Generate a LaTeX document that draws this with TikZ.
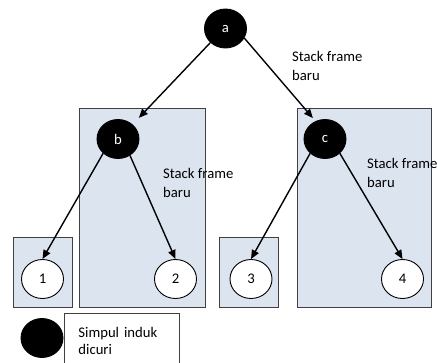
\documentclass[tikz,border=0pt]{standalone}
\usepackage{fontspec}
\setmainfont{Carlito}
\usetikzlibrary{arrows.meta,shapes.geometric}
\definecolor{framebg}{HTML}{DCE4F0}

\begin{document}
\begin{tikzpicture}[x=1pt, y=-1pt, font=\fontsize{14.7}{19}\selectfont,
    simpul/.style={ellipse, draw=black, line width=0.9pt, inner sep=0pt, minimum width=42pt, minimum height=39pt},
    induk/.style={simpul, fill=black, text=white},
    daun/.style={simpul, fill=white},
    bingkai/.style={draw=black!75, line width=0.9pt, fill=framebg},
    panah/.style={line width=1.4pt, -{Triangle[length=9pt,width=7.5pt]}},
    ket/.style={align=left, inner sep=0pt, anchor=north west}]
    \useasboundingbox (0,0) rectangle (438,363);
    \clip (0,0) rectangle (438,363);
    \coordinate (A) at (225.5,28.5);
    \coordinate (B) at (118,139);
    \coordinate (C) at (325,139);
    \coordinate (S1) at (42.5,279);
    \coordinate (S2) at (175.5,279);
    \coordinate (S3) at (251,279);
    \coordinate (S4) at (402.5,279);
    % stack frames
    \draw[bingkai] (79,108) rectangle (205,307);
    \draw[bingkai] (297,108) rectangle (431,307);
    \draw[bingkai] (13,237) rectangle (72,307);
    \draw[bingkai] (219,237) rectangle (278,307);
    \node[induk] (a) at (A) {a};
    \node[induk] (b) at (B) {b};
    \node[induk] (c) at (C) {c};
    \node[daun] (n1) at (S1) {1};
    \node[daun] (n2) at (S2) {2};
    \node[daun] (n3) at (S3) {3};
    \node[daun] (n4) at (S4) {4};
    \draw[panah, shorten >=9pt] (a.-137) -- (b.45);
    \draw[panah, shorten >=4pt] (a.-27) -- (c.118);
    \draw[panah] (b.-136) -- (n1.north);
    \draw[panah] (b.-54) -- (n2.north);
    \draw[panah] (c.-136) -- (n3.north);
    \draw[panah] (c.-44) -- (n4.north);
    \node[ket] (t1) at (292,51.5) {Stack frame\\baru};
    \node[ket] (t2) at (163,168.5) {Stack frame\\baru};
    \node[ket] (t3) at (367,158.5) {Stack frame\\baru};
    % legenda
    \node[induk] (lg) at (42,338) {};
    \node[draw=black!75, line width=0.9pt, fill=white, anchor=north west, align=left,
          font=\fontsize{14.7}{17}\selectfont, inner xsep=14pt, inner ysep=13.5pt,
          text width=87pt] (kotak) at (64,313) {Simpul induk\\dicuri};
\end{tikzpicture}
\end{document}
